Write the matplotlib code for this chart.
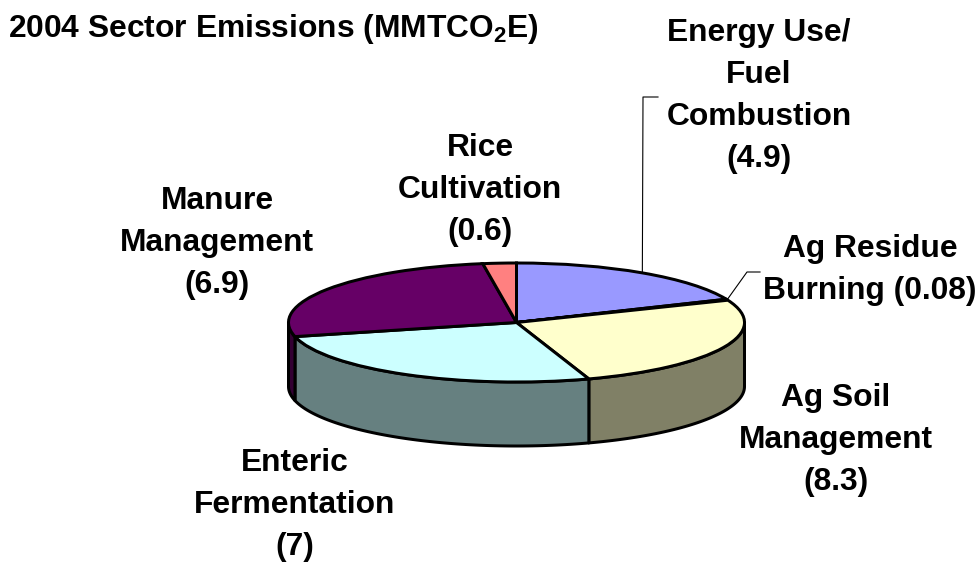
import numpy as np
import matplotlib
matplotlib.use('Agg')
import matplotlib.pyplot as plt

plt.rcParams['font.family'] = ['Liberation Sans', 'DejaVu Sans']
plt.rcParams['mathtext.fontset'] = 'custom'
plt.rcParams['mathtext.bf'] = 'Liberation Sans:bold'

W, H = 977, 562

# clockwise from 12 o'clock
sectors = ['Energy Use/\nFuel\nCombustion', 'Ag Residue\nBurning', 'Ag Soil\nManagement',
           'Enteric\nFermentation', 'Manure\nManagement', 'Rice\nCultivation']
labelled = ['4.9', '0.08', '8.3', '7', '6.9', '0.6']
# slice sizes as drawn, in degrees: the 3D view skews them a bit from the labels
drawn_deg = [67, 1, 93.5, 94.8, 95.2, 8.5]
top_colors = ['#9999FF', '#993366', '#FFFFCC', '#CCFFFF', '#660066', '#FF8080']
side_colors = ['#4C4C80', '#4C1933', '#808066', '#668080', '#330033', '#804040']

cx, cy = 516.5, 322.5
rx, ry = 228, 59.5
depth = 64 / ry
lw = 3.0 * 72 / 100

fig = plt.figure(figsize=(W / 100, H / 100), dpi=100)
ax = fig.add_axes([0, 0, 1, 1])


def px(x, y):
    # reference pixel -> axes fraction
    return x / W, 1 - y / H


edges = np.concatenate([[0], np.cumsum(drawn_deg)])

# side wall, only the part facing front (90..270 deg from the top)
for i in range(len(drawn_deg)):
    a0, a1 = max(edges[i], 90), min(edges[i + 1], 270)
    if a1 <= a0:
        continue
    t = np.radians(np.linspace(a0, a1, 80))
    xs = np.sin(t)
    ys = np.cos(t)
    ax.fill(np.r_[xs, xs[::-1]], np.r_[ys, ys[::-1] - depth], facecolor=side_colors[i],
            edgecolor='black', linewidth=lw, joinstyle='round', zorder=1)

ax.pie(drawn_deg, colors=top_colors, startangle=90, counterclock=False, radius=1,
       wedgeprops=dict(edgecolor='black', linewidth=lw), normalize=True)
for w in ax.patches:
    w.set_zorder(2)
ax.set_aspect('auto')
ax.set_xlim(-cx / rx, (W - cx) / rx)
ax.set_ylim((cy - H) / ry, cy / ry)
ax.axis('off')


def rim(deg):
    t = np.radians(deg)
    return cx + rx * np.sin(t), cy - ry * np.cos(t)


# leader lines
mid = (edges[:-1] + edges[1:]) / 2
x0, y0 = rim(mid[0])
ax.plot(*zip(*[px(x0, y0), px(643, 97), px(658, 97)]), transform=ax.transAxes, color='black', lw=0.8, zorder=3)
x1, y1 = rim(mid[1])
ax.plot(*zip(*[px(x1, y1), px(747, 272), px(760, 272)]), transform=ax.transAxes, color='black', lw=0.8, zorder=3)

fs = 22.9
opts = dict(transform=ax.transAxes, ha='center', va='center', fontsize=fs, fontweight='bold', linespacing=1.52)
ax.text(*px(759, 96), sectors[0] + '\n(' + labelled[0] + ')', **opts)
ax.text(*px(870, 270), 'Ag Residue\nBurning (' + labelled[1] + ')', **opts)
ax.text(*px(836, 440), sectors[2] + '\n(' + labelled[2] + ')', **opts)
ax.text(*px(295, 505), sectors[3] + '\n(' + labelled[3] + ')', **opts)
ax.text(*px(217, 243), sectors[4] + '\n(' + labelled[4] + ')', **opts)
ax.text(*px(480, 190), sectors[5] + '\n(' + labelled[5] + ')', **opts)

ax.text(*px(8, 29), r'2004 Sector Emissions (MMTCO$_{\mathbf{2}}$E)', transform=ax.transAxes,
        ha='left', va='center', fontsize=fs, fontweight='bold')

fig.savefig('out.png', dpi=100, facecolor='white')
